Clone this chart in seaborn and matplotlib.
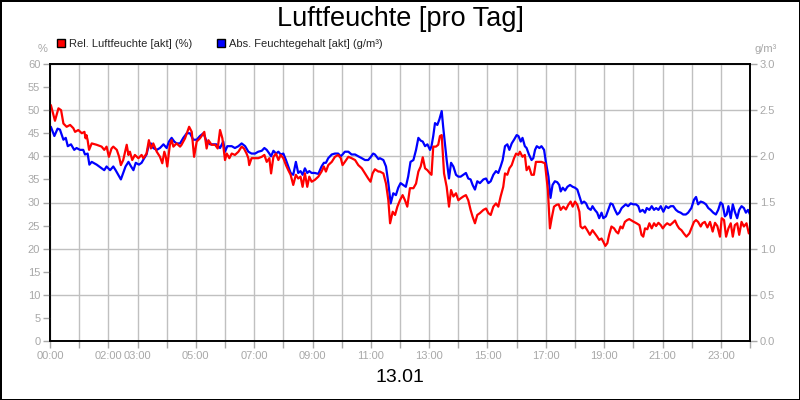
import matplotlib
matplotlib.use("Agg")
import matplotlib.pyplot as plt
import seaborn as sns
from matplotlib.lines import Line2D

# Relative Luftfeuchte (%) - time in hours
red_t = [0.03, 0.17, 0.29, 0.38, 0.46, 0.57, 0.69, 0.80, 0.86, 0.97, 1.09, 1.18, 1.22, 1.25, 1.29, 1.34, 1.43, 1.60,
         1.77, 1.86, 1.94, 2.02, 2.11, 2.17, 2.29, 2.37, 2.43, 2.51, 2.63, 2.69, 2.74, 2.82, 2.91, 3.03, 3.14, 3.20,
         3.31, 3.39, 3.46, 3.54, 3.66, 3.77, 3.85, 3.92, 3.97, 4.02, 4.11, 4.17, 4.23, 4.34, 4.46, 4.51, 4.63, 4.77,
         4.86, 4.94, 5.03, 5.14, 5.22, 5.29, 5.37, 5.43, 5.54, 5.66, 5.75, 5.83, 5.91,
         6.00, 6.06, 6.15, 6.23, 6.34, 6.46, 6.57, 6.65, 6.74, 6.80, 6.83, 6.91, 7.03, 7.14, 7.26, 7.35, 7.43, 7.52,
         7.58, 7.66, 7.75, 7.83, 7.91, 8.00, 8.09, 8.17, 8.25, 8.34, 8.43, 8.51, 8.59, 8.66, 8.74, 8.82, 8.89, 8.97,
         9.08, 9.20, 9.31, 9.39, 9.46, 9.54, 9.66, 9.77, 9.88, 9.97, 10.03, 10.11, 10.23, 10.34, 10.46, 10.57, 10.69,
         10.80, 10.91, 10.99, 11.06, 11.14, 11.26,
         11.31, 11.43, 11.52, 11.60, 11.66, 11.75, 11.83, 11.91, 12.00, 12.09, 12.17, 12.25, 12.34, 12.46, 12.55,
         12.63, 12.71, 12.78, 12.86, 12.94, 13.03, 13.08, 13.14, 13.23, 13.31, 13.37, 13.43, 13.51, 13.60, 13.68,
         13.75, 13.83, 13.92, 14.00, 14.08, 14.17, 14.26, 14.34, 14.42, 14.49, 14.57, 14.65, 14.74, 14.86, 14.95,
         15.03, 15.11, 15.20, 15.29, 15.37, 15.45, 15.54, 15.60, 15.68, 15.75, 15.83, 15.91, 15.98, 16.06, 16.11,
         16.20, 16.28, 16.34, 16.42, 16.51, 16.59, 16.66, 16.74, 16.85, 16.97,
         17.00, 17.07, 17.14, 17.21, 17.28, 17.37, 17.44, 17.51, 17.60, 17.69, 17.77, 17.85, 17.92, 18.00, 18.08,
         18.15, 18.19, 18.26, 18.34, 18.42, 18.51, 18.60, 18.68, 18.76, 18.83, 18.91, 18.97, 19.04, 19.11, 19.17,
         19.25, 19.34, 19.41, 19.48, 19.56, 19.63, 19.71, 19.79, 19.86, 19.94, 20.02, 20.11, 20.21, 20.28, 20.34,
         20.40, 20.48, 20.55, 20.63, 20.71, 20.78, 20.86, 20.94, 21.01, 21.09, 21.16, 21.26, 21.35, 21.43, 21.50,
         21.57, 21.65, 21.73, 21.82, 21.92, 21.99, 22.08, 22.15, 22.22, 22.31, 22.37, 22.45, 22.54, 22.63, 22.72,
         22.80, 22.88, 22.97, 23.03, 23.11, 23.18, 23.26, 23.34, 23.41, 23.48, 23.56, 23.63, 23.71, 23.79, 23.88,
         23.96]
red_v = [51.1, 47.7, 50.4, 50.0, 47.1, 46.4, 46.8, 46.1, 45.3, 45.7, 45.0, 45.3, 43.9, 44.6, 43.5, 41.4, 42.8, 42.5,
         42.1, 41.4, 42.1, 39.9, 41.7, 42.1, 41.4, 39.9, 38.1, 39.2, 42.5, 40.3, 41.0, 39.2, 40.3, 39.6, 40.3, 39.6,
         40.6, 43.5, 41.7, 42.8, 41.0, 39.9, 38.5, 41.0, 39.9, 37.8, 42.5, 43.5, 42.1, 42.8, 42.1, 42.5, 43.9, 46.4,
         45.3, 39.9, 43.2, 43.9, 44.6, 45.3, 41.7, 43.5, 42.5, 42.5, 41.7, 45.7, 43.9,
         39.2, 40.6, 39.6, 40.6, 40.3, 41.0, 42.1, 41.7, 40.6, 39.6, 38.1, 39.6, 39.6, 39.6, 39.9, 40.3, 38.8, 39.6,
         36.3, 39.9, 40.6, 39.2, 40.3, 39.6, 38.1, 37.0, 36.0, 33.8, 36.0, 35.2, 35.6, 33.4, 36.3, 33.4, 35.6, 34.5,
         34.9, 35.6, 36.7, 37.8, 36.7, 38.1, 38.8, 39.9, 40.3, 39.6, 38.1, 38.8, 39.9, 39.6, 39.2, 38.1, 37.4,
         36.3, 35.2, 34.5, 36.3, 37.2, 36.7,
         36.7, 36.3, 34.1, 30.5, 25.5, 28.0, 27.3, 29.1, 30.5, 31.6, 30.5, 29.1, 33.1, 33.1, 34.1,
         36.7, 37.8, 39.8, 37.4, 37.0, 36.3, 36.0, 42.1, 42.1, 42.5, 44.4, 44.6, 36.3, 33.4, 29.1,
         32.7, 31.3, 32.0, 30.5, 30.9, 31.3, 31.6, 30.5, 28.4, 26.9, 25.5, 27.3, 27.7, 28.4, 28.7,
         27.7, 27.3, 29.1, 29.8, 29.1, 31.3, 33.4, 36.3, 36.0, 37.4, 38.1, 39.6, 40.6, 40.3, 41.0,
         39.9, 40.3, 37.0, 37.8, 36.0, 36.0, 38.8, 38.8, 38.8, 38.5,
         36.7, 32.7, 24.4, 26.9, 29.1, 29.5, 29.6, 28.4, 29.1, 28.5, 29.5, 30.2, 29.1, 30.2, 29.5,
         28.0, 24.8, 24.4, 24.8, 24.0, 23.0, 24.0, 23.3, 22.6, 21.9, 22.2, 21.5, 20.6, 21.2, 23.0,
         24.8, 24.4, 23.7, 23.3, 24.8, 24.4, 25.8, 26.2, 26.4, 26.1, 25.8, 25.5, 25.1, 23.0, 22.6,
         24.4, 24.2, 25.5, 24.4, 25.5, 24.9, 25.6, 25.1, 24.4, 25.1, 25.5, 25.1, 25.6, 26.1, 25.1,
         24.4, 24.0, 23.3, 22.6, 23.3, 24.4, 25.8, 26.2, 25.8, 24.8, 25.5, 25.8, 24.6, 25.8, 23.7,
         25.6, 24.9, 22.6, 26.6, 26.2, 22.6, 24.4, 25.5, 22.6, 25.1, 25.5, 23.0, 25.8, 24.8, 25.5,
         23.3]

# Absoluter Feuchtegehalt (g/m3) - time in hours
blue_t = [0.03, 0.15, 0.26, 0.34, 0.46, 0.54, 0.61, 0.72, 0.83, 0.91, 1.03, 1.14, 1.20, 1.29, 1.35, 1.43, 1.60, 1.77,
          1.86, 1.94, 2.06, 2.17, 2.25, 2.34, 2.43, 2.51, 2.59, 2.69, 2.78, 2.86, 2.94, 3.05, 3.14, 3.23, 3.31, 3.39,
          3.46, 3.54, 3.66, 3.77, 3.89, 4.00, 4.08, 4.17, 4.26, 4.34, 4.46, 4.57, 4.69, 4.80, 4.91, 5.03, 5.14, 5.26,
          5.37, 5.49, 5.60, 5.71, 5.83, 5.94,
          6.00, 6.08, 6.23, 6.34, 6.46, 6.57, 6.69, 6.80, 6.91, 7.03, 7.14, 7.26, 7.35, 7.43, 7.52, 7.58, 7.66, 7.75,
          7.83, 7.91, 8.00, 8.09, 8.17, 8.25, 8.34, 8.43, 8.51, 8.59, 8.66, 8.74, 8.82, 8.89, 8.97, 9.08, 9.20, 9.31,
          9.39, 9.46, 9.54, 9.66, 9.77, 9.88, 9.97, 10.03, 10.11, 10.23, 10.34, 10.46, 10.57, 10.69, 10.80, 10.91,
          10.99, 11.08, 11.14, 11.26,
          11.31, 11.43, 11.52, 11.60, 11.68, 11.77, 11.86, 11.94, 12.02, 12.11, 12.20, 12.28, 12.36, 12.46, 12.55,
          12.63, 12.71, 12.78, 12.86, 12.94, 13.03, 13.08, 13.14, 13.20, 13.28, 13.35, 13.43, 13.48, 13.54, 13.60,
          13.68, 13.75, 13.83, 13.92, 14.00, 14.08, 14.17, 14.26, 14.34, 14.42, 14.49, 14.57, 14.65, 14.74, 14.86,
          14.95, 15.03, 15.11, 15.20, 15.29, 15.37, 15.45, 15.52, 15.60, 15.68, 15.75, 15.83, 15.91, 16.00, 16.06,
          16.14, 16.20, 16.28, 16.34, 16.42, 16.51, 16.57, 16.63, 16.69, 16.78, 16.85, 16.94,
          17.00, 17.09, 17.16, 17.23, 17.31, 17.39, 17.46, 17.51, 17.58, 17.66, 17.74, 17.83, 17.92, 18.00, 18.08,
          18.15, 18.23, 18.31, 18.38, 18.45, 18.54, 18.60, 18.68, 18.76, 18.83, 18.91, 18.97, 19.06, 19.14, 19.22,
          19.29, 19.37, 19.45, 19.52, 19.60, 19.67, 19.74, 19.82, 19.91, 20.00, 20.09, 20.17, 20.23, 20.32, 20.40,
          20.46, 20.55, 20.63, 20.71, 20.78, 20.86, 20.94, 21.03, 21.12, 21.20, 21.28, 21.37, 21.46, 21.54, 21.62,
          21.71, 21.80, 21.88, 21.99, 22.08, 22.15, 22.22, 22.31, 22.40, 22.49, 22.57, 22.65, 22.74, 22.83, 22.91,
          22.99, 23.06, 23.14, 23.20, 23.26, 23.34, 23.41, 23.48, 23.56, 23.63, 23.71, 23.79, 23.86, 23.93, 24.00]
blue_v = [2.32, 2.22, 2.30, 2.29, 2.18, 2.20, 2.11, 2.13, 2.07, 2.09, 2.07, 2.07, 2.02, 2.03, 1.91, 1.94, 1.91, 1.87,
          1.85, 1.89, 1.85, 1.89, 1.85, 1.80, 1.75, 1.82, 1.89, 1.94, 1.89, 1.85, 1.93, 1.91, 1.93, 1.98, 2.02, 2.13,
          2.14, 2.09, 2.07, 2.09, 2.13, 2.09, 2.16, 2.20, 2.16, 2.14, 2.14, 2.20, 2.25, 2.25, 2.18, 2.18, 2.22, 2.25,
          2.16, 2.13, 2.13, 2.13, 2.09, 2.16,
          2.05, 2.11, 2.11, 2.09, 2.11, 2.14, 2.11, 2.05, 2.03, 2.03, 2.05, 2.06, 2.09, 2.07, 2.03, 2.00, 2.06, 2.03,
          2.05, 2.02, 2.03, 1.96, 1.89, 1.82, 1.80, 1.94, 1.82, 1.84, 1.80, 1.87, 1.82, 1.84, 1.82, 1.82, 1.81, 1.89,
          1.93, 1.93, 1.98, 2.02, 2.03, 2.03, 2.00, 2.02, 2.05, 2.05, 2.02, 2.02, 2.00, 1.98, 1.96, 1.96,
          1.99, 2.03, 2.02, 1.97,
          1.98, 1.96, 1.89, 1.71, 1.49, 1.60, 1.58, 1.66, 1.71, 1.69, 1.67, 1.78, 1.94, 1.96, 2.07,
          2.20, 2.17, 2.16, 2.11, 2.13, 2.07, 2.11, 2.22, 2.36, 2.34, 2.40, 2.49, 2.32, 2.14, 1.96,
          1.76, 1.93, 1.89, 1.80, 1.78, 1.78, 1.80, 1.82, 1.76, 1.75, 1.69, 1.64, 1.73, 1.71, 1.75,
          1.76, 1.71, 1.73, 1.80, 1.84, 1.82, 1.89, 1.96, 2.11, 2.13, 2.07, 2.14, 2.18, 2.23, 2.22,
          2.16, 2.20, 2.11, 2.09, 2.02, 1.96, 1.98, 2.07, 2.11, 2.09, 2.11, 2.07,
          1.94, 1.78, 1.55, 1.69, 1.73, 1.72, 1.69, 1.62, 1.66, 1.63, 1.67, 1.69, 1.67, 1.66, 1.64,
          1.57, 1.49, 1.51, 1.49, 1.44, 1.42, 1.46, 1.42, 1.39, 1.33, 1.39, 1.33, 1.35, 1.42, 1.49,
          1.48, 1.42, 1.37, 1.39, 1.44, 1.46, 1.48, 1.46, 1.49, 1.48, 1.48, 1.46, 1.40, 1.42, 1.39,
          1.44, 1.42, 1.46, 1.42, 1.44, 1.42, 1.46, 1.40, 1.46, 1.44, 1.46, 1.46, 1.42, 1.40, 1.39,
          1.37, 1.37, 1.39, 1.44, 1.53, 1.56, 1.48, 1.51, 1.50, 1.48, 1.44, 1.42, 1.39, 1.37, 1.42,
          1.50, 1.48, 1.35, 1.37, 1.46, 1.33, 1.48, 1.40, 1.33, 1.42, 1.46, 1.44, 1.39, 1.42, 1.37]

label_hours = [0, 2, 3, 5, 7, 9, 11, 13, 15, 17, 19, 21, 23]
rel_label = 'Rel. Luftfeuchte [akt] (%)'
abs_label = 'Abs. Feuchtegehalt [akt] (g/m³)'

sns.set_style("white")
plt.rcParams['font.family'] = ['Liberation Sans', 'DejaVu Sans']

grey = '#a8a8a8'
fig = plt.figure(figsize=(8, 4), dpi=100)
fig.patch.set_facecolor('white')
fig.patch.set_edgecolor('black')
fig.patch.set_linewidth(2)

# blue on the base axis (right scale), red on the twin (left scale) so red sits on top
ax = fig.add_axes([0.0625, 0.1475, 0.875, 0.6925])
ax2 = ax.twinx()

sns.lineplot(x=blue_t, y=blue_v, ax=ax, color='#0000ff', linewidth=1.6, estimator=None, sort=False)
sns.lineplot(x=red_t, y=red_v, ax=ax2, color='#ff0000', linewidth=1.6, estimator=None, sort=False)

ax.set_xlim(0, 24)
ax.set_ylim(0, 3)
ax2.set_ylim(0, 60)

# blue axis ticks go to the right, red axis to the left
ax.yaxis.tick_right()
ax2.yaxis.tick_left()
ax.set_yticks([i * 0.5 for i in range(7)])
ax.set_yticklabels([f"{i * 0.5:.1f}" for i in range(7)])
ax2.set_yticks(range(0, 61, 5))
ax.set_xticks(range(0, 25))
ax.set_xticklabels([f"{h:02d}:00" if h in label_hours else '' for h in range(0, 25)])

ax.grid(True, color='#c0c0c0', linewidth=1)
ax2.grid(False)
for a in (ax, ax2):
    a.tick_params(axis='both', colors=grey, labelcolor=grey, labelsize=8, length=5, width=1, direction='out', pad=2)
    for s in a.spines.values():
        s.set_color('black')
        s.set_linewidth(1.2)
ax.tick_params(axis='x', bottom=True)
ax.set_xlabel('')
ax.set_ylabel('')
ax2.set_ylabel('')

fig.text(0.5, 0.953, 'Luftfeuchte [pro Tag]', ha='center', va='center', fontsize=19.5, color='black')
fig.text(0.5, 0.055, '13.01', ha='center', va='center', fontsize=14, color='black')
fig.text(0.053, 0.878, '%', ha='center', va='center', fontsize=8, color=grey)
fig.text(0.957, 0.878, 'g/m³', ha='center', va='center', fontsize=8, color=grey)

handles = [Line2D([], [], marker='s', linestyle='none', markersize=5.5, markerfacecolor='#ff0000', markeredgecolor='black'),
           Line2D([], [], marker='s', linestyle='none', markersize=5.5, markerfacecolor='#0000ff', markeredgecolor='black')]
fig.legend(handles, [rel_label, abs_label], loc='center left', bbox_to_anchor=(0.071, 0.89), ncol=2,
           frameon=False, fontsize=8, handlelength=0.8, handletextpad=0.3, columnspacing=2.2, borderaxespad=0,
           borderpad=0)

fig.savefig('out.png', dpi=100, facecolor=fig.get_facecolor(), edgecolor=fig.get_edgecolor())
